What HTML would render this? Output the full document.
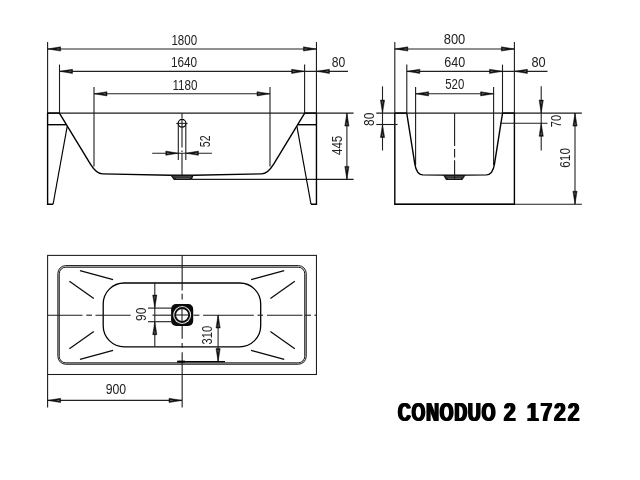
<!DOCTYPE html>
<html lang="en">
<head>
<meta charset="utf-8">
<title>CONODUO 2 1722</title>
<style>
html,body{margin:0;padding:0;background:#fff;}
body{width:640px;height:480px;overflow:hidden;}
svg{display:block;font-family:"Liberation Sans",sans-serif;}
.t{opacity:0.999;}
body{position:relative;}
.title{position:absolute;left:0;top:397.4px;width:640px;height:30px;font:bold 25.9px/30px "Liberation Sans",sans-serif;color:#000;opacity:0.999;}
.title span{position:absolute;top:0;white-space:pre;letter-spacing:1.43px;transform-origin:0 50%;transform:scaleX(0.677);text-shadow:1.45px 0 0 #000,-1.45px 0 0 #000;}
.title span.d{letter-spacing:2.6px;transform:scaleX(0.8);text-shadow:1.1px 0 0 #000,-1.1px 0 0 #000;}
</style>
</head>
<body>
<svg width="640" height="480" viewBox="0 0 640 480">
<rect width="640" height="480" fill="#fff"/>
<g class="t">
<line x1="47.60" y1="41.90" x2="47.60" y2="113.10" stroke="#1c1c1c" stroke-width="1.1" />
<line x1="316.45" y1="41.90" x2="316.45" y2="113.10" stroke="#1c1c1c" stroke-width="1.1" />
<line x1="59.50" y1="64.60" x2="59.50" y2="113.10" stroke="#1c1c1c" stroke-width="1.1" />
<line x1="304.60" y1="64.60" x2="304.60" y2="113.10" stroke="#1c1c1c" stroke-width="1.1" />
<line x1="94.00" y1="87.00" x2="94.00" y2="166.50" stroke="#1c1c1c" stroke-width="1.1" />
<line x1="270.00" y1="87.00" x2="270.00" y2="166.50" stroke="#1c1c1c" stroke-width="1.1" />
<line x1="47.60" y1="48.95" x2="316.45" y2="48.95" stroke="#222" stroke-width="1.1" />
<line x1="59.50" y1="71.35" x2="348.00" y2="71.35" stroke="#222" stroke-width="1.1" />
<line x1="94.00" y1="93.80" x2="270.00" y2="93.80" stroke="#222" stroke-width="1.1" />
<polygon points="47.60,48.95 60.60,46.85 60.60,51.05" fill="#111" stroke="#111" stroke-width="0.5" stroke-linejoin="round"/>
<polygon points="55.90,48.95 59.40,48.20 59.40,49.70" fill="#666"/>
<polygon points="316.45,48.95 303.45,51.05 303.45,46.85" fill="#111" stroke="#111" stroke-width="0.5" stroke-linejoin="round"/>
<polygon points="308.15,48.95 304.65,49.70 304.65,48.20" fill="#666"/>
<polygon points="59.50,71.35 72.50,69.25 72.50,73.45" fill="#111" stroke="#111" stroke-width="0.5" stroke-linejoin="round"/>
<polygon points="67.80,71.35 71.30,70.60 71.30,72.10" fill="#666"/>
<polygon points="304.60,71.35 291.60,73.45 291.60,69.25" fill="#111" stroke="#111" stroke-width="0.5" stroke-linejoin="round"/>
<polygon points="296.30,71.35 292.80,72.10 292.80,70.60" fill="#666"/>
<polygon points="316.45,71.35 329.45,69.25 329.45,73.45" fill="#111" stroke="#111" stroke-width="0.5" stroke-linejoin="round"/>
<polygon points="324.75,71.35 328.25,70.60 328.25,72.10" fill="#666"/>
<polygon points="94.00,93.80 107.00,91.70 107.00,95.90" fill="#111" stroke="#111" stroke-width="0.5" stroke-linejoin="round"/>
<polygon points="102.30,93.80 105.80,93.05 105.80,94.55" fill="#666"/>
<polygon points="270.00,93.80 257.00,95.90 257.00,91.70" fill="#111" stroke="#111" stroke-width="0.5" stroke-linejoin="round"/>
<polygon points="261.70,93.80 258.20,94.55 258.20,93.05" fill="#666"/>
<text transform="translate(184.25,45.25) scale(0.78,1)" font-size="14.8" font-weight="normal" text-anchor="middle" fill="#222">1800</text>
<text transform="translate(184.00,66.75) scale(0.796,1)" font-size="14.8" font-weight="normal" text-anchor="middle" fill="#222">1640</text>
<text transform="translate(184.88,89.50) scale(0.786,1)" font-size="14.8" font-weight="normal" text-anchor="middle" fill="#222">1180</text>
<text transform="translate(338.50,67.00) scale(0.821,1)" font-size="14.8" font-weight="normal" text-anchor="middle" fill="#222">80</text>
<line x1="47.60" y1="113.10" x2="353.60" y2="113.10" stroke="#1c1c1c" stroke-width="1.1" />
<line x1="192.00" y1="179.40" x2="353.60" y2="179.40" stroke="#1c1c1c" stroke-width="1.1" />
<line x1="346.90" y1="113.10" x2="346.90" y2="179.40" stroke="#222" stroke-width="1.1" />
<polygon points="346.90,113.10 349.00,126.10 344.80,126.10" fill="#111" stroke="#111" stroke-width="0.5" stroke-linejoin="round"/>
<polygon points="346.90,121.40 347.65,124.90 346.15,124.90" fill="#666"/>
<polygon points="346.90,179.40 344.80,166.40 349.00,166.40" fill="#111" stroke="#111" stroke-width="0.5" stroke-linejoin="round"/>
<polygon points="346.90,171.10 346.15,167.60 347.65,167.60" fill="#666"/>
<text transform="translate(342.25,145.37) rotate(-90) scale(0.782,1)" font-size="14.8" font-weight="normal" text-anchor="middle" fill="#222">445</text>
<path d="M47.6,113.1 L47.6,204.2 L53.1,204.2" stroke="#000" stroke-width="1.4" fill="none" />
<path d="M53.1,204.2 L67.2,126.4" stroke="#000" stroke-width="1.15" fill="none" />
<path d="M316.45,113.1 L316.45,204.2 L311.0,204.2" stroke="#000" stroke-width="1.4" fill="none" />
<path d="M311.0,204.2 L296.9,126.4" stroke="#000" stroke-width="1.15" fill="none" />
<line x1="47.60" y1="124.70" x2="66.40" y2="124.70" stroke="#000" stroke-width="1.4" />
<line x1="316.45" y1="124.70" x2="297.70" y2="124.70" stroke="#000" stroke-width="1.4" />
<line x1="47.60" y1="113.10" x2="59.50" y2="113.10" stroke="#000" stroke-width="1.4" />
<line x1="304.60" y1="113.10" x2="316.45" y2="113.10" stroke="#000" stroke-width="1.4" />
<path d="M59.4,113.1 L90.6,164.3 Q96.4,173.7 102.6,173.85 L170.6,175.3 L193.4,175.3 L261.5,173.85 Q267.7,173.7 273.5,164.3 L304.7,113.1" stroke="#000" stroke-width="1.4" fill="none" />
<polygon points="170.2,175.0 173.9,179.9 191.7,179.9 193.8,175.0" fill="#141414"/>
<line x1="173.20" y1="176.90" x2="191.40" y2="176.90" stroke="#999" stroke-width="0.6" />
<line x1="175.60" y1="178.40" x2="190.00" y2="178.40" stroke="#aaa" stroke-width="0.5" />
<line x1="182.00" y1="113.10" x2="182.00" y2="118.50" stroke="#1c1c1c" stroke-width="1.1" />
<circle cx="182.05" cy="123.3" r="3.85" fill="none" stroke="#000" stroke-width="1.25"/>
<line x1="176.20" y1="123.40" x2="187.60" y2="123.40" stroke="#1c1c1c" stroke-width="1.0" />
<line x1="182.00" y1="119.50" x2="182.00" y2="147.50" stroke="#1c1c1c" stroke-width="1.1" />
<line x1="182.00" y1="150.50" x2="182.00" y2="152.00" stroke="#1c1c1c" stroke-width="1.1" />
<line x1="182.00" y1="153.00" x2="182.00" y2="175.00" stroke="#1c1c1c" stroke-width="1.1" />
<line x1="178.30" y1="124.00" x2="178.30" y2="160.00" stroke="#1c1c1c" stroke-width="1.1" />
<line x1="185.80" y1="124.00" x2="185.80" y2="160.00" stroke="#1c1c1c" stroke-width="1.1" />
<line x1="152.20" y1="153.20" x2="211.90" y2="153.20" stroke="#222" stroke-width="1.1" />
<polygon points="178.40,153.20 165.80,155.30 165.80,151.10" fill="#111" stroke="#111" stroke-width="0.5" stroke-linejoin="round"/>
<polygon points="170.50,153.20 167.00,153.95 167.00,152.45" fill="#666"/>
<polygon points="185.80,153.20 198.40,151.10 198.40,155.30" fill="#111" stroke="#111" stroke-width="0.5" stroke-linejoin="round"/>
<polygon points="193.70,153.20 197.20,152.45 197.20,153.95" fill="#666"/>
<text transform="translate(209.50,141.25) rotate(-90) scale(0.715,1)" font-size="14.8" font-weight="normal" text-anchor="middle" fill="#222">52</text>
<line x1="394.80" y1="41.90" x2="394.80" y2="113.10" stroke="#1c1c1c" stroke-width="1.1" />
<line x1="514.40" y1="41.90" x2="514.40" y2="113.10" stroke="#1c1c1c" stroke-width="1.1" />
<line x1="406.80" y1="64.60" x2="406.80" y2="113.10" stroke="#1c1c1c" stroke-width="1.1" />
<line x1="502.50" y1="64.60" x2="502.50" y2="113.10" stroke="#1c1c1c" stroke-width="1.1" />
<line x1="415.60" y1="87.00" x2="415.60" y2="165.00" stroke="#1c1c1c" stroke-width="1.1" />
<line x1="493.60" y1="87.00" x2="493.60" y2="165.00" stroke="#1c1c1c" stroke-width="1.1" />
<line x1="394.80" y1="48.95" x2="514.40" y2="48.95" stroke="#222" stroke-width="1.1" />
<line x1="406.80" y1="71.35" x2="547.50" y2="71.35" stroke="#222" stroke-width="1.1" />
<line x1="415.60" y1="93.80" x2="493.60" y2="93.80" stroke="#222" stroke-width="1.1" />
<polygon points="394.80,48.95 407.80,46.85 407.80,51.05" fill="#111" stroke="#111" stroke-width="0.5" stroke-linejoin="round"/>
<polygon points="403.10,48.95 406.60,48.20 406.60,49.70" fill="#666"/>
<polygon points="514.40,48.95 501.40,51.05 501.40,46.85" fill="#111" stroke="#111" stroke-width="0.5" stroke-linejoin="round"/>
<polygon points="506.10,48.95 502.60,49.70 502.60,48.20" fill="#666"/>
<polygon points="406.80,71.35 419.80,69.25 419.80,73.45" fill="#111" stroke="#111" stroke-width="0.5" stroke-linejoin="round"/>
<polygon points="415.10,71.35 418.60,70.60 418.60,72.10" fill="#666"/>
<polygon points="502.50,71.35 489.50,73.45 489.50,69.25" fill="#111" stroke="#111" stroke-width="0.5" stroke-linejoin="round"/>
<polygon points="494.20,71.35 490.70,72.10 490.70,70.60" fill="#666"/>
<polygon points="514.40,71.35 527.40,69.25 527.40,73.45" fill="#111" stroke="#111" stroke-width="0.5" stroke-linejoin="round"/>
<polygon points="522.70,71.35 526.20,70.60 526.20,72.10" fill="#666"/>
<polygon points="415.60,93.80 428.60,91.70 428.60,95.90" fill="#111" stroke="#111" stroke-width="0.5" stroke-linejoin="round"/>
<polygon points="423.90,93.80 427.40,93.05 427.40,94.55" fill="#666"/>
<polygon points="493.60,93.80 480.60,95.90 480.60,91.70" fill="#111" stroke="#111" stroke-width="0.5" stroke-linejoin="round"/>
<polygon points="485.30,93.80 481.80,94.55 481.80,93.05" fill="#666"/>
<text transform="translate(454.50,44.25) scale(0.873,1)" font-size="14.8" font-weight="normal" text-anchor="middle" fill="#222">800</text>
<text transform="translate(454.75,66.75) scale(0.847,1)" font-size="14.8" font-weight="normal" text-anchor="middle" fill="#222">640</text>
<text transform="translate(454.75,89.25) scale(0.771,1)" font-size="14.8" font-weight="normal" text-anchor="middle" fill="#222">520</text>
<text transform="translate(538.62,66.63) scale(0.863,1)" font-size="14.8" font-weight="normal" text-anchor="middle" fill="#222">80</text>
<line x1="376.30" y1="113.10" x2="581.90" y2="113.10" stroke="#1c1c1c" stroke-width="1.1" />
<line x1="394.80" y1="204.20" x2="581.90" y2="204.20" stroke="#1c1c1c" stroke-width="1.1" />
<path d="M394.8,113.1 L394.8,204.2 L514.4,204.2 L514.4,113.1" stroke="#000" stroke-width="1.4" fill="none" />
<line x1="394.80" y1="113.10" x2="406.80" y2="113.10" stroke="#000" stroke-width="1.4" />
<line x1="502.50" y1="113.10" x2="514.40" y2="113.10" stroke="#000" stroke-width="1.4" />
<path d="M406.75,113.1 L414.8,163.8 C415.9,170.8 418.3,174.7 423.0,174.9 L443.4,175.1 L465.3,175.1 L486.3,174.9 C491.0,174.7 493.4,170.8 494.5,163.8 L502.55,113.1" stroke="#000" stroke-width="1.4" fill="none" />
<polygon points="443.0,175.0 446.0,180.0 462.4,180.0 465.7,175.0" fill="#141414"/>
<line x1="445.60" y1="176.90" x2="463.20" y2="176.90" stroke="#999" stroke-width="0.6" />
<line x1="447.60" y1="178.40" x2="461.20" y2="178.40" stroke="#aaa" stroke-width="0.5" />
<line x1="454.60" y1="113.10" x2="454.60" y2="146.00" stroke="#1c1c1c" stroke-width="1.1" />
<line x1="454.60" y1="149.00" x2="454.60" y2="157.50" stroke="#1c1c1c" stroke-width="1.1" />
<line x1="454.60" y1="160.30" x2="454.60" y2="179.00" stroke="#1c1c1c" stroke-width="1.1" />
<line x1="382.50" y1="86.30" x2="382.50" y2="150.50" stroke="#222" stroke-width="1.1" />
<line x1="376.30" y1="124.50" x2="397.60" y2="124.50" stroke="#1c1c1c" stroke-width="1.1" />
<polygon points="382.50,113.10 380.40,100.10 384.60,100.10" fill="#111" stroke="#111" stroke-width="0.5" stroke-linejoin="round"/>
<polygon points="382.50,104.80 381.75,101.30 383.25,101.30" fill="#666"/>
<polygon points="382.50,124.50 384.60,137.50 380.40,137.50" fill="#111" stroke="#111" stroke-width="0.5" stroke-linejoin="round"/>
<polygon points="382.50,132.80 383.25,136.30 381.75,136.30" fill="#666"/>
<text transform="translate(374.00,119.37) rotate(-90) scale(0.804,1)" font-size="14.8" font-weight="normal" text-anchor="middle" fill="#222">80</text>
<line x1="541.20" y1="86.30" x2="541.20" y2="150.50" stroke="#222" stroke-width="1.1" />
<line x1="500.00" y1="123.30" x2="547.50" y2="123.30" stroke="#1c1c1c" stroke-width="1.1" />
<polygon points="541.20,113.10 539.10,100.10 543.30,100.10" fill="#111" stroke="#111" stroke-width="0.5" stroke-linejoin="round"/>
<polygon points="541.20,104.80 540.45,101.30 541.95,101.30" fill="#666"/>
<polygon points="541.20,123.30 543.30,136.30 539.10,136.30" fill="#111" stroke="#111" stroke-width="0.5" stroke-linejoin="round"/>
<polygon points="541.20,131.60 541.95,135.10 540.45,135.10" fill="#666"/>
<text transform="translate(561.00,121.12) rotate(-90) scale(0.751,1)" font-size="14.8" font-weight="normal" text-anchor="middle" fill="#222">70</text>
<line x1="575.00" y1="113.10" x2="575.00" y2="204.20" stroke="#222" stroke-width="1.1" />
<polygon points="575.00,113.10 577.10,126.10 572.90,126.10" fill="#111" stroke="#111" stroke-width="0.5" stroke-linejoin="round"/>
<polygon points="575.00,121.40 575.75,124.90 574.25,124.90" fill="#666"/>
<polygon points="575.00,204.20 572.90,191.20 577.10,191.20" fill="#111" stroke="#111" stroke-width="0.5" stroke-linejoin="round"/>
<polygon points="575.00,195.90 574.25,192.40 575.75,192.40" fill="#666"/>
<text transform="translate(569.50,157.88) rotate(-90) scale(0.794,1)" font-size="14.8" font-weight="normal" text-anchor="middle" fill="#222">610</text>
<rect x="47.6" y="255.4" width="268.85" height="119.10" fill="none" stroke="#1a1a1a" stroke-width="1.05"/>
<rect x="57.88" y="265.63" width="248.33" height="98.58" rx="7.8" fill="none" stroke="#0c0c0c" stroke-width="1.0"/>
<rect x="59.23" y="267.19" width="245.54" height="95.67" rx="6.5" fill="none" stroke="#0c0c0c" stroke-width="1.0"/>
<rect x="103.2" y="283.0" width="157.50" height="63.80" rx="21" fill="none" stroke="#000" stroke-width="1.3"/>
<line x1="80.00" y1="270.60" x2="113.10" y2="279.60" stroke="#0a0a0a" stroke-width="1.25" />
<line x1="80.00" y1="359.40" x2="113.10" y2="350.40" stroke="#0a0a0a" stroke-width="1.25" />
<line x1="284.20" y1="270.60" x2="251.10" y2="279.60" stroke="#0a0a0a" stroke-width="1.25" />
<line x1="284.20" y1="359.40" x2="251.10" y2="350.40" stroke="#0a0a0a" stroke-width="1.25" />
<line x1="69.40" y1="281.30" x2="93.80" y2="298.50" stroke="#0a0a0a" stroke-width="1.25" />
<line x1="69.40" y1="348.70" x2="93.80" y2="331.50" stroke="#0a0a0a" stroke-width="1.25" />
<line x1="294.80" y1="281.30" x2="270.40" y2="298.50" stroke="#0a0a0a" stroke-width="1.25" />
<line x1="294.80" y1="348.70" x2="270.40" y2="331.50" stroke="#0a0a0a" stroke-width="1.25" />
<line x1="47.90" y1="315.20" x2="82.50" y2="315.20" stroke="#1c1c1c" stroke-width="1.1" />
<line x1="86.30" y1="315.20" x2="92.00" y2="315.20" stroke="#1c1c1c" stroke-width="1.1" />
<line x1="95.50" y1="315.20" x2="130.60" y2="315.20" stroke="#1c1c1c" stroke-width="1.1" />
<line x1="152.50" y1="315.20" x2="171.00" y2="315.20" stroke="#1c1c1c" stroke-width="1.1" />
<line x1="193.50" y1="315.20" x2="199.40" y2="315.20" stroke="#1c1c1c" stroke-width="1.1" />
<line x1="203.10" y1="315.20" x2="253.80" y2="315.20" stroke="#1c1c1c" stroke-width="1.1" />
<line x1="257.50" y1="315.20" x2="263.00" y2="315.20" stroke="#1c1c1c" stroke-width="1.1" />
<line x1="267.00" y1="315.20" x2="302.50" y2="315.20" stroke="#1c1c1c" stroke-width="1.1" />
<line x1="305.00" y1="315.20" x2="311.00" y2="315.20" stroke="#1c1c1c" stroke-width="1.1" />
<line x1="314.40" y1="315.20" x2="316.40" y2="315.20" stroke="#1c1c1c" stroke-width="1.1" />
<line x1="182.15" y1="255.40" x2="182.15" y2="290.50" stroke="#1c1c1c" stroke-width="1.1" />
<line x1="182.15" y1="293.80" x2="182.15" y2="299.50" stroke="#1c1c1c" stroke-width="1.1" />
<line x1="182.15" y1="326.00" x2="182.15" y2="338.80" stroke="#1c1c1c" stroke-width="1.1" />
<line x1="182.15" y1="343.00" x2="182.15" y2="347.80" stroke="#1c1c1c" stroke-width="1.1" />
<line x1="182.15" y1="352.20" x2="182.15" y2="407.50" stroke="#1c1c1c" stroke-width="1.1" />
<rect x="171.1" y="304.1" width="22.1" height="21.8" rx="5" fill="#0a0a0a"/>
<circle cx="182.15" cy="315" r="9.0" fill="#e0e0e0"/>
<circle cx="182.15" cy="315" r="7.0" fill="#fff" stroke="#0a0a0a" stroke-width="1.8"/>
<line x1="175.50" y1="315.00" x2="189.00" y2="315.00" stroke="#222" stroke-width="1.1" />
<line x1="182.00" y1="308.50" x2="182.00" y2="321.50" stroke="#222" stroke-width="1.1" />
<line x1="154.80" y1="282.80" x2="154.80" y2="346.80" stroke="#222" stroke-width="1.1" />
<line x1="148.00" y1="308.10" x2="171.20" y2="308.10" stroke="#1c1c1c" stroke-width="1.1" />
<line x1="148.00" y1="321.70" x2="171.20" y2="321.70" stroke="#1c1c1c" stroke-width="1.1" />
<polygon points="154.80,308.10 152.70,295.10 156.90,295.10" fill="#111" stroke="#111" stroke-width="0.5" stroke-linejoin="round"/>
<polygon points="154.80,299.80 154.05,296.30 155.55,296.30" fill="#666"/>
<polygon points="154.80,321.70 156.90,334.70 152.70,334.70" fill="#111" stroke="#111" stroke-width="0.5" stroke-linejoin="round"/>
<polygon points="154.80,330.00 155.55,333.50 154.05,333.50" fill="#666"/>
<text transform="translate(145.75,314.25) rotate(-90) scale(0.807,1)" font-size="14.8" font-weight="normal" text-anchor="middle" fill="#222">90</text>
<line x1="218.10" y1="315.00" x2="218.10" y2="361.60" stroke="#222" stroke-width="1.1" />
<polygon points="218.10,315.00 220.20,328.00 216.00,328.00" fill="#111" stroke="#111" stroke-width="0.5" stroke-linejoin="round"/>
<polygon points="218.10,323.30 218.85,326.80 217.35,326.80" fill="#666"/>
<polygon points="218.10,361.60 216.00,348.60 220.20,348.60" fill="#111" stroke="#111" stroke-width="0.5" stroke-linejoin="round"/>
<polygon points="218.10,353.30 217.35,349.80 218.85,349.80" fill="#666"/>
<text transform="translate(211.75,335.12) rotate(-90) scale(0.755,1)" font-size="14.8" font-weight="normal" text-anchor="middle" fill="#222">310</text>
<line x1="177.30" y1="361.60" x2="225.00" y2="361.60" stroke="#000" stroke-width="1.3" />
<line x1="177.30" y1="361.60" x2="185.00" y2="361.60" stroke="#000" stroke-width="2.0" />
<line x1="47.60" y1="374.50" x2="47.60" y2="407.50" stroke="#1c1c1c" stroke-width="1.1" />
<line x1="47.60" y1="400.40" x2="182.00" y2="400.40" stroke="#222" stroke-width="1.1" />
<polygon points="47.60,400.40 60.60,398.30 60.60,402.50" fill="#111" stroke="#111" stroke-width="0.5" stroke-linejoin="round"/>
<polygon points="55.90,400.40 59.40,399.65 59.40,401.15" fill="#666"/>
<polygon points="182.00,400.40 169.00,402.50 169.00,398.30" fill="#111" stroke="#111" stroke-width="0.5" stroke-linejoin="round"/>
<polygon points="173.70,400.40 170.20,401.15 170.20,399.65" fill="#666"/>
<text transform="translate(115.88,394.25) scale(0.828,1)" font-size="14.8" font-weight="normal" text-anchor="middle" fill="#222">900</text>
</g>
</svg>
<div class="title"><span style="left:397.9px">CONODUO</span> <span class="d" style="left:504.3px">2</span> <span class="d" style="left:527.2px">1722</span></div>
</body>
</html>
